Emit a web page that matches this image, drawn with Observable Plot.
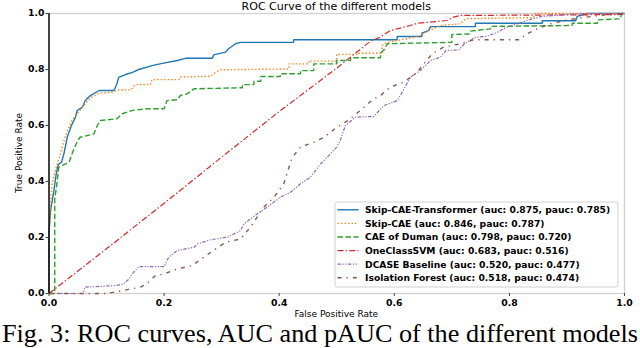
<!DOCTYPE html>
<html><head><meta charset="utf-8">
<script src="https://cdn.jsdelivr.net/npm/d3@7"></script>
<script src="https://cdn.jsdelivr.net/npm/@observablehq/plot@0.6"></script>
<style>
body{margin:0;background:#fff;}
#wrap{position:relative;width:640px;height:348px;overflow:hidden;background:#fff;}
#wrap svg{position:absolute;left:0;}
</style></head><body><div id="wrap"></div>
<script>
// ---------- data ----------
const titleText = "ROC Curve of the different models";
const xLabelText = "False Positive Rate";
const yLabelText = "True Positive Rate";
const captionText = "Fig. 3: ROC curves, AUC and pAUC of the different models";
const axisTicks = [0, 0.2, 0.4, 0.6, 0.8, 1.0];

const modelNames = ["Skip-CAE-Transformer", "Skip-CAE", "CAE of Duman", "OneClassSVM", "DCASE Baseline", "Isolation Forest"];
const aucValues  = [0.875, 0.846, 0.798, 0.683, 0.520, 0.518];
const paucValues = [0.785, 0.787, 0.720, 0.516, 0.477, 0.474];

// ROC points [fpr, tpr]
const rocSkipCaeTransformer = [[0,0],[0,0.22],[0.003,0.3],[0.008,0.36],[0.012,0.42],[0.016,0.46],[0.022,0.47],[0.026,0.5],[0.028,0.52],[0.032,0.56],[0.039,0.6],[0.046,0.63],[0.049,0.654],[0.058,0.665],[0.063,0.689],[0.072,0.707],[0.087,0.725],[0.113,0.725],[0.118,0.749],[0.121,0.772],[0.133,0.782],[0.145,0.79],[0.156,0.8],[0.179,0.814],[0.197,0.822],[0.223,0.832],[0.237,0.84],[0.284,0.84],[0.286,0.852],[0.307,0.862],[0.312,0.874],[0.324,0.892],[0.333,0.897],[0.425,0.897],[0.425,0.906],[0.605,0.906],[0.605,0.918],[0.648,0.918],[0.648,0.93],[0.66,0.94],[0.663,0.953],[0.741,0.953],[0.741,0.965],[0.857,0.965],[0.857,0.974],[0.915,0.974],[0.918,0.99],[0.935,1.0],[1,1]];
const rocSkipCae = [[0,0],[0,0.2],[0.002,0.285],[0.005,0.39],[0.011,0.44],[0.02,0.5],[0.026,0.546],[0.032,0.582],[0.04,0.618],[0.049,0.642],[0.06,0.671],[0.072,0.699],[0.087,0.715],[0.11,0.719],[0.121,0.727],[0.142,0.727],[0.15,0.746],[0.176,0.746],[0.179,0.764],[0.226,0.764],[0.228,0.773],[0.281,0.776],[0.286,0.785],[0.298,0.799],[0.417,0.802],[0.417,0.82],[0.451,0.82],[0.451,0.83],[0.5,0.83],[0.5,0.854],[0.535,0.854],[0.535,0.858],[0.579,0.858],[0.579,0.886],[0.588,0.897],[0.622,0.91],[0.645,0.921],[0.66,0.939],[0.68,0.957],[0.715,0.963],[0.72,0.975],[0.727,0.982],[0.842,0.985],[0.845,1.0],[1,1]];
const rocCaeDuman = [[0,0],[0.01,0],[0.01,0.34],[0.013,0.38],[0.017,0.451],[0.035,0.469],[0.042,0.51],[0.05,0.546],[0.054,0.558],[0.066,0.564],[0.078,0.57],[0.084,0.6],[0.089,0.618],[0.118,0.624],[0.127,0.642],[0.145,0.654],[0.171,0.66],[0.2,0.66],[0.205,0.689],[0.223,0.692],[0.228,0.707],[0.24,0.713],[0.252,0.731],[0.336,0.735],[0.336,0.746],[0.356,0.746],[0.356,0.758],[0.368,0.758],[0.368,0.775],[0.402,0.775],[0.402,0.785],[0.437,0.785],[0.437,0.796],[0.46,0.796],[0.46,0.82],[0.5,0.82],[0.5,0.832],[0.524,0.832],[0.524,0.842],[0.576,0.842],[0.576,0.858],[0.582,0.87],[0.588,0.892],[0.7,0.897],[0.7,0.925],[0.73,0.927],[0.732,0.937],[0.767,0.945],[0.767,0.954],[0.909,0.957],[0.909,0.965],[0.953,0.965],[0.953,0.977],[0.993,0.981],[0.995,1],[1,1]];
const rocOneClassSvm = [[0,0],[0.1,0.16],[0.2,0.322],[0.3,0.487],[0.4,0.65],[0.5,0.805],[0.558,0.9],[0.575,0.915],[0.593,0.939],[0.628,0.957],[0.64,0.965],[0.692,0.975],[0.703,0.987],[0.715,0.993],[0.99,0.996],[1,1]];
const rocDcaseBaseline = [[0,0],[0.06,0],[0.062,0.0225],[0.118,0.029],[0.13,0.035],[0.139,0.052],[0.147,0.076],[0.156,0.096],[0.2,0.096],[0.208,0.13],[0.223,0.154],[0.252,0.165],[0.258,0.177],[0.281,0.192],[0.31,0.201],[0.333,0.225],[0.339,0.249],[0.362,0.285],[0.379,0.308],[0.402,0.344],[0.42,0.362],[0.437,0.392],[0.454,0.415],[0.472,0.463],[0.489,0.499],[0.5,0.523],[0.506,0.546],[0.515,0.6],[0.533,0.63],[0.564,0.632],[0.582,0.671],[0.605,0.689],[0.617,0.731],[0.628,0.773],[0.645,0.796],[0.663,0.832],[0.68,0.844],[0.69,0.868],[0.712,0.87],[0.722,0.892],[0.741,0.915],[0.76,0.918],[0.779,0.933],[0.79,0.945],[0.796,0.951],[0.831,0.975],[0.854,0.989],[0.918,0.999],[0.925,1],[1,1]];
const rocIsolationForest = [[0,0],[0.1,0],[0.13,0.011],[0.159,0.023],[0.17,0.035],[0.185,0.064],[0.2,0.07],[0.223,0.088],[0.249,0.1],[0.269,0.13],[0.286,0.154],[0.307,0.183],[0.333,0.195],[0.35,0.237],[0.373,0.308],[0.391,0.344],[0.408,0.392],[0.417,0.451],[0.423,0.487],[0.437,0.523],[0.46,0.54],[0.478,0.558],[0.5,0.594],[0.52,0.618],[0.541,0.654],[0.564,0.695],[0.576,0.707],[0.593,0.737],[0.617,0.755],[0.64,0.79],[0.651,0.82],[0.666,0.856],[0.686,0.88],[0.715,0.892],[0.738,0.906],[0.819,0.906],[0.828,0.925],[0.848,0.945],[0.871,0.963],[0.9,0.977],[0.955,0.993],[1,1]];

const rocSeries = [rocSkipCaeTransformer, rocSkipCae, rocCaeDuman, rocOneClassSvm, rocDcaseBaseline, rocIsolationForest];

// ---------- styles ----------
const seriesColors = ["#1f77b4", "#ff7f0e", "#2ca02c", "#d62728", "#9467bd", "#8c564b"];
const seriesDash = [null, "1.4,2.1", "5.5,2.5", "6,2.2,1.4,2.2", "3.5,1.5,1.2,1.5,1.2,1.5", "4,5,1.3,5"];
const seriesWidth = [1.4, 1.4, 1.4, 1.2, 1.2, 1.4];

const W = 640, H = 320;
const M = {left: 48.5, right: 16, top: 13, bottom: 27};

const lineMarks = rocSeries.map((pts, i) => Plot.line(pts, {
  x: d => d[0], y: d => d[1],
  stroke: seriesColors[i], strokeWidth: seriesWidth[i],
  strokeDasharray: seriesDash[i] || undefined,
  strokeLinejoin: "miter", strokeLinecap: "butt"
}));

const chart = Plot.plot({
  width: W, height: H,
  marginLeft: M.left, marginRight: M.right, marginTop: M.top, marginBottom: M.bottom,
  style: {fontFamily: "DejaVu Sans", background: "#fff", color: "#000", overflow: "visible"},
  x: {domain: [0, 1]},
  y: {domain: [0, 1]},
  marks: [
    Plot.frame({stroke: "#d2d2d2", strokeWidth: 1.4}),
    ...lineMarks,
    Plot.ruleX([0], {stroke: "#000", strokeWidth: 1.4}),
    Plot.axisX({ticks: axisTicks, tickFormat: d => d.toFixed(1), tickSize: 3, tickPadding: 2.6,
      fontSize: 9.3, fontWeight: "bold", fontFamily: "DejaVu Sans", stroke: "#444", label: null}),
    Plot.axisY({ticks: axisTicks, tickFormat: d => d.toFixed(1), tickSize: 3, tickPadding: 1.5,
      fontSize: 9.3, fontWeight: "bold", fontFamily: "DejaVu Sans", stroke: "#444", label: null})
  ]
});
chart.style.top = "0px";
document.getElementById("wrap").appendChild(chart);

const svg = d3.select(chart);
const cx = M.left + (W - M.left - M.right) / 2;
const cy = M.top + (H - M.top - M.bottom) / 2;

// title
svg.append("text").attr("x", cx).attr("y", 9.5).attr("text-anchor", "middle")
  .style("font-family", "DejaVu Sans").style("font-size", "11px").attr("fill", "#000").text(titleText);
// axis labels
svg.append("text").attr("x", cx).attr("y", 316.5).attr("text-anchor", "middle")
  .style("font-family", "DejaVu Sans").style("font-size", "9px").attr("fill", "#000").text(xLabelText);
svg.append("text").attr("transform", `translate(22,${cy}) rotate(-90)`).attr("text-anchor", "middle")
  .style("font-family", "DejaVu Sans").style("font-size", "9px").attr("fill", "#000").text(yLabelText);

// legend
const lg = svg.append("g").attr("text-anchor", "start");
lg.append("rect").attr("x", 335).attr("y", 202).attr("width", 283).attr("height", 85)
  .attr("rx", 2.5).attr("fill", "#fff").attr("fill-opacity", 0.85).attr("stroke", "#d0d0d0").attr("stroke-width", 1);
modelNames.forEach((name, i) => {
  const yy = 209.8 + i * 13.6;
  lg.append("line").attr("x1", 337.5).attr("x2", 358.5).attr("y1", yy).attr("y2", yy)
    .attr("stroke", seriesColors[i]).attr("stroke-width", seriesWidth[i])
    .attr("stroke-dasharray", seriesDash[i]);
  lg.append("text").attr("x", 365).attr("y", yy).attr("dy", "0.36em").attr("text-anchor", "start")
    .style("font-family", "DejaVu Sans").style("font-weight", "bold").style("font-size", "9.2px")
    .attr("fill", "#000")
    .text(`${name} (auc: ${aucValues[i].toFixed(3)}, pauc: ${paucValues[i].toFixed(3)})`);
});

// caption below the chart
const cap = d3.select("#wrap").append("svg").attr("width", 640).attr("height", 28).style("top", "320px");
const capText = cap.append("text").attr("x", 2).attr("y", 22)
  .style("font-family", "'Liberation Serif', 'Times New Roman', serif").style("font-size", "26px")
  .attr("fill", "#000").text(captionText);
const tw = capText.node().getComputedTextLength();
if (tw > 0) capText.style("font-size", (26 * 636 / tw).toFixed(2) + "px");
</script>
</body></html>
